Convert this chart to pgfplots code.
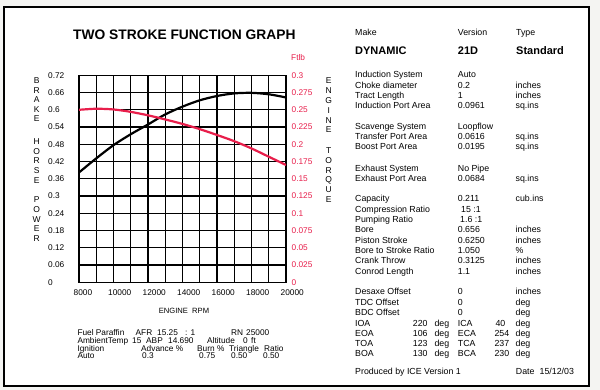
\documentclass[border=0pt]{standalone}
\usepackage{fontspec}
\setmainfont{Liberation Sans}
\usepackage{pgfplots}
\pgfplotsset{compat=1.18}
\definecolor{tq}{RGB}{232,30,75}
\definecolor{bg}{RGB}{244,244,242}
\newcommand{\T}[4][8.8]{\node[anchor=base west,inner sep=0pt,font=\fontsize{#1}{#1}\selectfont] at ({#2pt},{390pt-#3pt}) {#4};}
\newcommand{\TB}[3]{\node[anchor=base west,inner sep=0pt,font=\fontsize{11}{11}\selectfont\bfseries] at ({#1pt},{390pt-#2pt}) {#3};}
\begin{document}
\begin{tikzpicture}
\fill[bg] (0pt,0pt) rectangle (600pt,390pt);
\fill[white] (4pt,4pt) rectangle (589pt,383pt);
\draw[line width=2pt] (4pt,4pt) rectangle (589pt,383pt);

% power axis
\begin{axis}[
  at={(79pt,107.7pt)}, anchor=south west,
  scale only axis, width=207pt, height=207pt,
  xmin=8000, xmax=20000, ymin=0, ymax=0.72,
  xtick={8000,10000,12000,14000,16000,18000,20000},
  xticklabels={8000,10000,12000,14000,16000,18000,20000},
  minor xtick={9000,11000,13000,15000,17000,19000},
  ytick={0,0.06,0.12,0.18,0.24,0.3,0.36,0.42,0.48,0.54,0.6,0.66,0.72},
  yticklabels={0,0.06,0.12,0.18,0.24,0.3,0.36,0.42,0.48,0.54,0.6,0.66,0.72},
  scaled x ticks=false, scaled y ticks=false,
  grid=both,
  major grid style={black, line width=1.2pt},
  minor grid style={black, line width=1.2pt},
  axis line style={black, line width=1.3pt},
  major tick length=0pt, minor tick length=0pt,
  xticklabel style={font=\fontsize{8.3}{8.3}\selectfont, anchor=north west, inner sep=0pt, xshift=-5.5pt, yshift=-7.5pt},
  yticklabel style={font=\fontsize{8.3}{8.3}\selectfont, anchor=west, inner sep=0pt, xshift=-31pt},
]
\addplot[black, line width=2.2pt, smooth] coordinates {
(8000,0.382) (9000,0.431) (10000,0.477) (11000,0.515) (12000,0.549)
(13000,0.584) (14000,0.611) (15000,0.633) (16000,0.648) (17000,0.657)
(18000,0.659) (19000,0.654) (20000,0.643)};
\end{axis}

% torque axis
\begin{axis}[
  at={(79pt,107.7pt)}, anchor=south west,
  scale only axis, width=207pt, height=207pt,
  xmin=8000, xmax=20000, ymin=0, ymax=0.3,
  axis x line=none, axis y line*=right,
  axis line style={draw=none},
  ytick={0,0.025,0.05,0.075,0.1,0.125,0.15,0.175,0.2,0.225,0.25,0.275,0.3},
  yticklabels={0,0.025,0.05,0.075,0.1,0.125,0.15,0.175,0.2,0.225,0.25,0.275,0.3},
  scaled y ticks=false,
  major tick length=0pt,
  yticklabel style={font=\fontsize{8.3}{8.3}\selectfont, text=tq, anchor=west, inner sep=0pt, xshift=5.5pt},
]
\addplot[tq, line width=2.2pt, smooth] coordinates {
(8000,0.250) (9000,0.2515) (10000,0.2505) (11000,0.247) (12000,0.242)
(13000,0.236) (14000,0.2295) (15000,0.222) (16000,0.2135) (17000,0.2045)
(18000,0.194) (19000,0.182) (20000,0.170)};
\end{axis}

% title and axis texts
\node[anchor=base west,inner sep=0pt,font=\fontsize{13.8}{13.8}\selectfont\bfseries] at (73pt,350pt) {TWO STROKE FUNCTION GRAPH};
\node[anchor=base west,inner sep=0pt,font=\fontsize{8.3}{8.3}\selectfont,text=tq] at (291pt,329pt) {Ftlb};
\node[anchor=base,inner sep=0pt,font=\fontsize{7.6}{7.6}\selectfont] at (184pt,76.7pt) {ENGINE\ \ RPM};
\foreach \l/\yy in {B/81,R/90.5,A/100,K/109.5,E/119,H/141.5,O/151.2,R/160.9,S/170.6,E/180.3,P/199.7,O/209.4,W/219.1,E/228.8,R/238.5}
  \node[anchor=center,inner sep=0pt,font=\fontsize{8.5}{8.5}\selectfont] at (36.7pt,{390pt-\yy pt}) {\l};
\foreach \l/\yy in {E/81,N/90.8,G/100.6,I/110.4,N/120.2,E/130,T/150.5,O/160.3,R/170.1,Q/179.9,U/189.7,E/199.5}
  \node[anchor=center,inner sep=0pt,font=\fontsize{8.5}{8.5}\selectfont] at (328.7pt,{390pt-\yy pt}) {\l};

% bottom block
\T[8.3]{77.3}{335.7}{Fuel Paraffin}
\T[8.3]{135.5}{335.7}{AFR}
\T[8.3]{157}{335.7}{15.25}
\T[8.3]{185}{335.7}{: 1}
\T[8.3]{231}{335.7}{RN}
\T[8.3]{246}{335.7}{25000}
\T[8.3]{77.3}{343.4}{AmbientTemp}
\T[8.3]{132}{343.4}{15}
\T[8.3]{146}{343.4}{ABP}
\T[8.3]{168}{343.4}{14.690}
\T[8.3]{207}{343.4}{Altitude}
\T[8.3]{243}{343.4}{0}
\T[8.3]{251}{343.4}{ft}
\T[8.3]{77.3}{351.1}{Ignition}
\T[8.3]{141}{351.1}{Advance \%}
\T[8.3]{197}{351.1}{Burn \%}
\T[8.3]{229}{351.1}{Triangle}
\T[8.3]{264}{351.1}{Ratio}
\T[8.3]{77.3}{358.8}{Auto}
\T[8.3]{142}{358.8}{0.3}
\T[8.3]{199}{358.8}{0.75}
\T[8.3]{231}{358.8}{0.50}
\T[8.3]{263}{358.8}{0.50}

% right panel
\T{355}{35.3}{Make}\T{457.7}{35.3}{Version}\T{516}{35.3}{Type}
\TB{355}{54.7}{DYNAMIC}\TB{457.7}{54.7}{21D}\TB{516}{54.7}{Standard}
\T{355}{78}{Induction System}\T{457.7}{78}{Auto}
\T{355}{88.3}{Choke diameter}\T{457.7}{88.3}{0.2}\T{515.5}{88.3}{inches}
\T{355}{98.7}{Tract Length}\T{457.7}{98.7}{1}\T{515.5}{98.7}{inches}
\T{355}{109}{Induction Port Area}\T{457.7}{109}{0.0961}\T{515.5}{109}{sq.ins}
\T{355}{129.7}{Scavenge System}\T{457.7}{129.7}{Loopflow}
\T{355}{140}{Transfer Port Area}\T{457.7}{140}{0.0616}\T{515.5}{140}{sq.ins}
\T{355}{150}{Boost Port Area}\T{457.7}{150}{0.0195}\T{515.5}{150}{sq.ins}
\T{355}{171.3}{Exhaust System}\T{457.7}{171.3}{No Pipe}
\T{355}{181.3}{Exhaust Port Area}\T{457.7}{181.3}{0.0684}\T{515.5}{181.3}{sq.ins}
\T{355}{202}{Capacity}\T{457.7}{202}{0.211}\T{515.5}{202}{cub.ins}
\T{355}{212.3}{Compression Ratio}\T{461}{212.3}{15 :1}
\T{355}{222.7}{Pumping Ratio}\T{460}{222.7}{1.6 :1}
\T{355}{233}{Bore}\T{457.7}{233}{0.656}\T{515.5}{233}{inches}
\T{355}{243.3}{Piston Stroke}\T{457.7}{243.3}{0.6250}\T{515.5}{243.3}{inches}
\T{355}{253.7}{Bore to Stroke Ratio}\T{457.7}{253.7}{1.050}\T{515.5}{253.7}{\%}
\T{355}{264}{Crank Throw}\T{457.7}{264}{0.3125}\T{515.5}{264}{inches}
\T{355}{274.3}{Conrod Length}\T{457.7}{274.3}{1.1}\T{515.5}{274.3}{inches}
\T{355}{295}{Desaxe Offset}\T{457.7}{295}{0}\T{515.5}{295}{inches}
\T{355}{305.7}{TDC Offset}\T{457.7}{305.7}{0}\T{515.5}{305.7}{deg}
\T{355}{316}{BDC Offset}\T{457.7}{316}{0}\T{515.5}{316}{deg}
\T{355}{326.3}{IOA}\T{412.7}{326.3}{220}\T{434.3}{326.3}{deg}\T{457.7}{326.3}{ICA}\T{495.3}{326.3}{40}\T{515.5}{326.3}{deg}
\T{355}{336.7}{EOA}\T{412.7}{336.7}{106}\T{434.3}{336.7}{deg}\T{457.7}{336.7}{ECA}\T{494.3}{336.7}{254}\T{515.5}{336.7}{deg}
\T{355}{346.7}{TOA}\T{412.7}{346.7}{123}\T{434.3}{346.7}{deg}\T{457.7}{346.7}{TCA}\T{494.3}{346.7}{237}\T{515.5}{346.7}{deg}
\T{355}{357}{BOA}\T{412.7}{357}{130}\T{434.3}{357}{deg}\T{457.7}{357}{BCA}\T{494.3}{357}{230}\T{515.5}{357}{deg}
\T{355}{374.7}{Produced by ICE Version 1}\T{515.7}{374.7}{Date}\T{539.5}{374.7}{15/12/03}
\end{tikzpicture}
\end{document}
